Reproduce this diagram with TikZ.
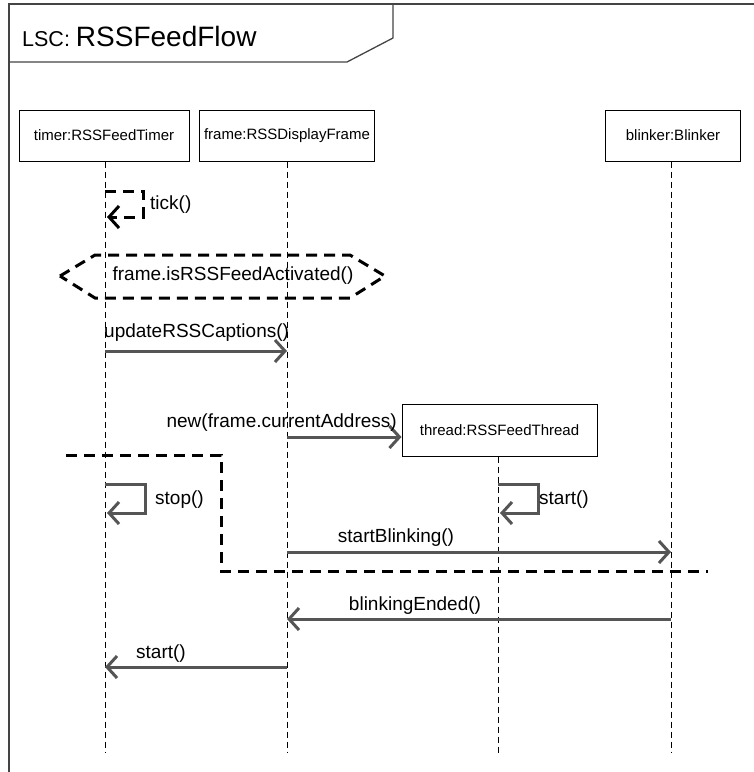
\documentclass[tikz,border=0pt]{standalone}
\usepackage{fontspec}
\setmainfont{Liberation Sans}
\usetikzlibrary{arrows.meta}
\definecolor{msgc}{HTML}{555555}
\definecolor{framec}{HTML}{444444}
\tikzset{
  fs/.style={font=\fontsize{#1}{#1}\selectfont},
  objbox/.style={draw=black, line width=1pt, minimum height=51pt, inner sep=0pt, fs=15},
  lifeline/.style={draw=black, line width=0.9pt, dash pattern=on 6pt off 4pt},
  barb/.style={-{Straight Barb[length=10pt,width=22pt,line width=3pt]}},
  msg/.style={draw=msgc, line width=3pt, barb},
  cond/.style={draw=black, line width=3pt, dash pattern=on 11pt off 7pt},
  msglabel/.style={inner sep=0pt, fs=19, text=black},
}
\begin{document}
\begin{tikzpicture}[x=1pt,y=-1pt]
\useasboundingbox (0,0) rectangle (754,772);
% LSC frame and its name tab
\draw[framec, line width=1.3pt] (9,790) -- (9,4) -- (760,4);
\draw[framec, line width=1.3pt] (9,62) -- (347,62) -- (393,38) -- (393,4);
\node[anchor=base west, inner sep=0pt] (title) at (22,46)
  {\fontsize{21.5}{21.5}\selectfont LSC:\hspace{6pt}\fontsize{28}{28}\selectfont RSSFeedFlow};

% participants
\node[objbox, minimum width=170pt] (timer)   at (104,135.5) {timer:RSSFeedTimer};
\node[objbox, minimum width=175pt] (frame)   at (287,135.5) {frame:RSSDisplayFrame};
\node[objbox, minimum width=135pt] (blinker) at (673,135.5) {blinker:Blinker};
\node[objbox, minimum width=195pt, minimum height=52pt] (thread) at (499.5,430) {thread:RSSFeedThread};

% lifelines
\draw[lifeline] ([xshift=1pt]timer.south) -- ([xshift=1pt]timer.south |- 0,753);
\draw[lifeline] (frame.south) -- (frame.south |- 0,753);
\draw[lifeline] ([xshift=-2pt]blinker.south) -- ([xshift=-2pt]blinker.south |- 0,753);
\draw[lifeline] ([xshift=-1.5pt]thread.south) -- ([xshift=-1.5pt]thread.south |- 0,753);

% tick(): hot self message
\draw[cond, barb]
  (105,191) -- ++(38,0) -- ++(0,26) -- (107,217);
\node[msglabel, anchor=west] (tick) at (150,205) {tick()};

% condition
\draw[cond] (60,276) -- (95,255) -- (350,255) -- (385,276) -- (350,298) -- (95,298) -- cycle;
\node[msglabel] (condtxt) at (233,276) {frame.isRSSFeedActivated()};

% updateRSSCaptions()
\draw[msg] (105,351) -- (frame |- 0,351);
\node[msglabel, anchor=base west] (upd) at (104,337) {updateRSSCaptions()};

% new(frame.currentAddress)
\draw[msg] (frame |- 0,437) -- (thread.west |- 0,437);
\node[msglabel, anchor=base east] (newl) at (397,427) {new(frame.currentAddress)};

% cut between the parts
\draw[cond] (66,455) -- (221,455) -- (221,571) -- (708,571);

% stop()
\draw[msg] (105,484) -- ++(40,0) -- ++(0,29) -- (107,513);
\node[msglabel, anchor=west] (stopl) at (155,500) {stop()};

% start() of the thread
\draw[msg] (498,484) -- ++(40,0) -- ++(0,29) -- (500,513);
\node[msglabel, anchor=west] (startt) at (539,500) {start()};

% startBlinking()
\draw[msg] (frame |- 0,552) -- (671,552);
\node[msglabel, anchor=base] (sbl) at (396,542) {startBlinking()};

% blinkingEnded()
\draw[msg] (671,619) -- (frame |- 0,619);
\node[msglabel, anchor=base] (bel) at (415,610) {blinkingEnded()};

% start() back to the timer
\draw[msg] (frame |- 0,667) -- (105,667);
\node[msglabel, anchor=base west] (stl) at (136,658) {start()};
\end{tikzpicture}
\end{document}
